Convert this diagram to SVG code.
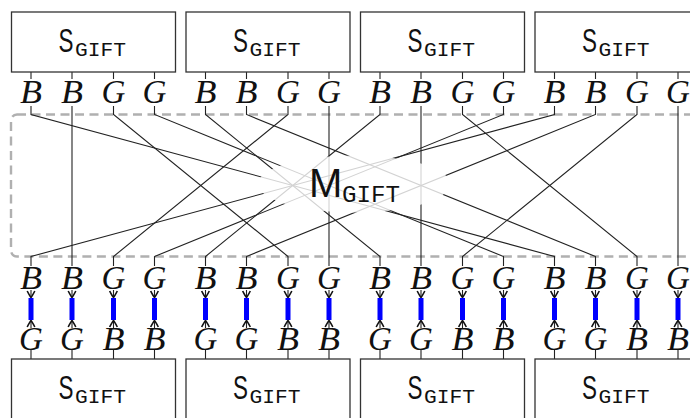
<svg xmlns="http://www.w3.org/2000/svg" width="690" height="418" viewBox="0 0 690 418">
  <style>
    .box { fill: #fff; stroke: #333; stroke-width: 1.3; }
    .s { font-family: "Liberation Sans", Arial, sans-serif; font-size: 33px; fill: #111; }
    .sub { font-family: "Liberation Mono", "DejaVu Sans Mono", monospace; font-size: 21px; fill: #111; }
    .lbl { font-family: "Liberation Serif", "Times New Roman", serif; font-style: italic; font-size: 33px; fill: #111; text-anchor: middle; }
    .wire { fill: none; stroke: #222; stroke-width: 1.1; }
    .frame { fill: none; stroke: #b0b0b0; stroke-width: 2.4; stroke-dasharray: 9 5.5; }
    .bar { fill: #0000ff; }
    .arr { fill: none; stroke: #222; stroke-width: 1.1; marker-end: url(#tip); }
  </style>
  <defs>
    <marker id="tip" viewBox="-8 -5 10 10" markerWidth="10" markerHeight="10" refX="0" refY="0" orient="auto" markerUnits="userSpaceOnUse">
      <path d="M-6.5,-3.8 Q-1.5,-1.2 0,0 Q-1.5,1.2 -6.5,3.8" fill="none" stroke="#111" stroke-width="1.6"/>
    </marker>
  </defs>

  <!-- dashed frame around the permutation layer -->
  <rect class="frame" x="11" y="114.5" width="700" height="142" rx="6"/>

  <!-- connectors: 16-bit permutation between the two S-box layers -->
  <g id="connectors">
    <!-- stubs from upper S-boxes to output labels -->
    <path class="wire" d="M31 72V79M72 72V79M113.5 72V79M154.5 72V79M205.5 72V79M246.5 72V79M288 72V79M329 72V79M380 72V79M421 72V79M462.5 72V79M503.5 72V79M554.5 72V79M595.5 72V79M637 72V79M678 72V79"/>
    <!-- permutation wires -->
    <path class="wire" d="M31 106V114.5L554.5 256.5V266"/>
    <path class="wire" d="M72 106V114.5L72 256.5V266"/>
    <path class="wire" d="M113.5 106V114.5L288 256.5V266"/>
    <path class="wire" d="M154.5 106V114.5L503.5 256.5V266"/>
    <path class="wire" d="M205.5 106V114.5L380 256.5V266"/>
    <path class="wire" d="M246.5 106V114.5L595.5 256.5V266"/>
    <path class="wire" d="M288 106V114.5L113.5 256.5V266"/>
    <path class="wire" d="M329 106V114.5L329 256.5V266"/>
    <path class="wire" d="M380 106V114.5L205.5 256.5V266"/>
    <path class="wire" d="M421 106V114.5L421 256.5V266"/>
    <path class="wire" d="M462.5 106V114.5L637 256.5V266"/>
    <path class="wire" d="M503.5 106V114.5L154.5 256.5V266"/>
    <path class="wire" d="M554.5 106V114.5L31 256.5V266"/>
    <path class="wire" d="M595.5 106V114.5L246.5 256.5V266"/>
    <path class="wire" d="M637 106V114.5L462.5 256.5V266"/>
    <path class="wire" d="M678 106V114.5L678 256.5V266"/>
    <!-- arrows from permuted labels down onto the bars -->
    <path class="arr" d="M31 290V297.5"/><path class="arr" d="M72 290V297.5"/><path class="arr" d="M113.5 290V297.5"/><path class="arr" d="M154.5 290V297.5"/>
    <path class="arr" d="M205.5 290V297.5"/><path class="arr" d="M246.5 290V297.5"/><path class="arr" d="M288 290V297.5"/><path class="arr" d="M329 290V297.5"/>
    <path class="arr" d="M380 290V297.5"/><path class="arr" d="M421 290V297.5"/><path class="arr" d="M462.5 290V297.5"/><path class="arr" d="M503.5 290V297.5"/>
    <path class="arr" d="M554.5 290V297.5"/><path class="arr" d="M595.5 290V297.5"/><path class="arr" d="M637 290V297.5"/><path class="arr" d="M678 290V297.5"/>
    <!-- arrows from input labels up onto the bars -->
    <path class="arr" d="M31 328V320.5"/><path class="arr" d="M72 328V320.5"/><path class="arr" d="M113.5 328V320.5"/><path class="arr" d="M154.5 328V320.5"/>
    <path class="arr" d="M205.5 328V320.5"/><path class="arr" d="M246.5 328V320.5"/><path class="arr" d="M288 328V320.5"/><path class="arr" d="M329 328V320.5"/>
    <path class="arr" d="M380 328V320.5"/><path class="arr" d="M421 328V320.5"/><path class="arr" d="M462.5 328V320.5"/><path class="arr" d="M503.5 328V320.5"/>
    <path class="arr" d="M554.5 328V320.5"/><path class="arr" d="M595.5 328V320.5"/><path class="arr" d="M637 328V320.5"/><path class="arr" d="M678 328V320.5"/>
    <!-- stubs from input labels to lower S-boxes -->
    <path class="wire" d="M31 350V359M72 350V359M113.5 350V359M154.5 350V359M205.5 350V359M246.5 350V359M288 350V359M329 350V359M380 350V359M421 350V359M462.5 350V359M503.5 350V359M554.5 350V359M595.5 350V359M637 350V359M678 350V359"/>
  </g>

  <!-- permutation layer label, with a translucent backdrop that fades the wires -->
  <g id="m-gift">
    <ellipse cx="354" cy="184" rx="96" ry="28.5" fill="#fff" fill-opacity="0.8"/>
    <text x="309" y="197" font-family="'Liberation Sans', Arial, sans-serif" font-size="40" fill="#111">M</text>
    <text x="342" y="202" font-family="'Liberation Mono', monospace" font-size="24" fill="#111" textLength="58" lengthAdjust="spacingAndGlyphs">GIFT</text>
  </g>

  <!-- upper S-box layer -->
  <g id="s-top-0">
    <rect class="box" x="11.5" y="12" width="164" height="60"/>
    <text class="s" transform="translate(58.5 52) scale(0.68 1)">S</text>
    <text class="sub" x="75" y="55.5" textLength="51" lengthAdjust="spacingAndGlyphs">GIFT</text>
  </g>
  <g id="s-top-1">
    <rect class="box" x="186" y="12" width="164" height="60"/>
    <text class="s" transform="translate(233 52) scale(0.68 1)">S</text>
    <text class="sub" x="249.5" y="55.5" textLength="51" lengthAdjust="spacingAndGlyphs">GIFT</text>
  </g>
  <g id="s-top-2">
    <rect class="box" x="360.5" y="12" width="164" height="60"/>
    <text class="s" transform="translate(407.5 52) scale(0.68 1)">S</text>
    <text class="sub" x="424" y="55.5" textLength="51" lengthAdjust="spacingAndGlyphs">GIFT</text>
  </g>
  <g id="s-top-3">
    <rect class="box" x="535" y="12" width="164" height="60"/>
    <text class="s" transform="translate(582 52) scale(0.68 1)">S</text>
    <text class="sub" x="598.5" y="55.5" textLength="51" lengthAdjust="spacingAndGlyphs">GIFT</text>
  </g>

  <!-- output bit labels of the upper layer -->
  <g id="out-labels">
    <text class="lbl" x="31" y="103" textLength="22" lengthAdjust="spacingAndGlyphs">B</text><text class="lbl" x="72" y="103" textLength="22" lengthAdjust="spacingAndGlyphs">B</text><text class="lbl" x="113.5" y="103">G</text><text class="lbl" x="154.5" y="103">G</text>
    <text class="lbl" x="205.5" y="103" textLength="22" lengthAdjust="spacingAndGlyphs">B</text><text class="lbl" x="246.5" y="103" textLength="22" lengthAdjust="spacingAndGlyphs">B</text><text class="lbl" x="288" y="103">G</text><text class="lbl" x="329" y="103">G</text>
    <text class="lbl" x="380" y="103" textLength="22" lengthAdjust="spacingAndGlyphs">B</text><text class="lbl" x="421" y="103" textLength="22" lengthAdjust="spacingAndGlyphs">B</text><text class="lbl" x="462.5" y="103">G</text><text class="lbl" x="503.5" y="103">G</text>
    <text class="lbl" x="554.5" y="103" textLength="22" lengthAdjust="spacingAndGlyphs">B</text><text class="lbl" x="595.5" y="103" textLength="22" lengthAdjust="spacingAndGlyphs">B</text><text class="lbl" x="637" y="103">G</text><text class="lbl" x="678" y="103">G</text>
  </g>

  <!-- permuted bit labels -->
  <g id="perm-labels">
    <text class="lbl" x="31" y="289" textLength="22" lengthAdjust="spacingAndGlyphs">B</text><text class="lbl" x="72" y="289" textLength="22" lengthAdjust="spacingAndGlyphs">B</text><text class="lbl" x="113.5" y="289">G</text><text class="lbl" x="154.5" y="289">G</text>
    <text class="lbl" x="205.5" y="289" textLength="22" lengthAdjust="spacingAndGlyphs">B</text><text class="lbl" x="246.5" y="289" textLength="22" lengthAdjust="spacingAndGlyphs">B</text><text class="lbl" x="288" y="289">G</text><text class="lbl" x="329" y="289">G</text>
    <text class="lbl" x="380" y="289" textLength="22" lengthAdjust="spacingAndGlyphs">B</text><text class="lbl" x="421" y="289" textLength="22" lengthAdjust="spacingAndGlyphs">B</text><text class="lbl" x="462.5" y="289">G</text><text class="lbl" x="503.5" y="289">G</text>
    <text class="lbl" x="554.5" y="289" textLength="22" lengthAdjust="spacingAndGlyphs">B</text><text class="lbl" x="595.5" y="289" textLength="22" lengthAdjust="spacingAndGlyphs">B</text><text class="lbl" x="637" y="289">G</text><text class="lbl" x="678" y="289">G</text>
  </g>

  <!-- matching bars -->
  <g id="bars">
    <rect class="bar" x="28.5" y="298" width="5" height="22"/><rect class="bar" x="69.5" y="298" width="5" height="22"/><rect class="bar" x="111" y="298" width="5" height="22"/><rect class="bar" x="152" y="298" width="5" height="22"/>
    <rect class="bar" x="203" y="298" width="5" height="22"/><rect class="bar" x="244" y="298" width="5" height="22"/><rect class="bar" x="285.5" y="298" width="5" height="22"/><rect class="bar" x="326.5" y="298" width="5" height="22"/>
    <rect class="bar" x="377.5" y="298" width="5" height="22"/><rect class="bar" x="418.5" y="298" width="5" height="22"/><rect class="bar" x="460" y="298" width="5" height="22"/><rect class="bar" x="501" y="298" width="5" height="22"/>
    <rect class="bar" x="552" y="298" width="5" height="22"/><rect class="bar" x="593" y="298" width="5" height="22"/><rect class="bar" x="634.5" y="298" width="5" height="22"/><rect class="bar" x="675.5" y="298" width="5" height="22"/>
  </g>

  <!-- input bit labels of the lower layer -->
  <g id="in-labels">
    <text class="lbl" x="31" y="350">G</text><text class="lbl" x="72" y="350">G</text><text class="lbl" x="113.5" y="350" textLength="22" lengthAdjust="spacingAndGlyphs">B</text><text class="lbl" x="154.5" y="350" textLength="22" lengthAdjust="spacingAndGlyphs">B</text>
    <text class="lbl" x="205.5" y="350">G</text><text class="lbl" x="246.5" y="350">G</text><text class="lbl" x="288" y="350" textLength="22" lengthAdjust="spacingAndGlyphs">B</text><text class="lbl" x="329" y="350" textLength="22" lengthAdjust="spacingAndGlyphs">B</text>
    <text class="lbl" x="380" y="350">G</text><text class="lbl" x="421" y="350">G</text><text class="lbl" x="462.5" y="350" textLength="22" lengthAdjust="spacingAndGlyphs">B</text><text class="lbl" x="503.5" y="350" textLength="22" lengthAdjust="spacingAndGlyphs">B</text>
    <text class="lbl" x="554.5" y="350">G</text><text class="lbl" x="595.5" y="350">G</text><text class="lbl" x="637" y="350" textLength="22" lengthAdjust="spacingAndGlyphs">B</text><text class="lbl" x="678" y="350" textLength="22" lengthAdjust="spacingAndGlyphs">B</text>
  </g>

  <!-- lower S-box layer -->
  <g id="s-bot-0">
    <rect class="box" x="11.5" y="359" width="164" height="62"/>
    <text class="s" transform="translate(58.5 399) scale(0.68 1)">S</text>
    <text class="sub" x="75" y="402.5" textLength="51" lengthAdjust="spacingAndGlyphs">GIFT</text>
  </g>
  <g id="s-bot-1">
    <rect class="box" x="186" y="359" width="164" height="62"/>
    <text class="s" transform="translate(233 399) scale(0.68 1)">S</text>
    <text class="sub" x="249.5" y="402.5" textLength="51" lengthAdjust="spacingAndGlyphs">GIFT</text>
  </g>
  <g id="s-bot-2">
    <rect class="box" x="360.5" y="359" width="164" height="62"/>
    <text class="s" transform="translate(407.5 399) scale(0.68 1)">S</text>
    <text class="sub" x="424" y="402.5" textLength="51" lengthAdjust="spacingAndGlyphs">GIFT</text>
  </g>
  <g id="s-bot-3">
    <rect class="box" x="535" y="359" width="164" height="62"/>
    <text class="s" transform="translate(582 399) scale(0.68 1)">S</text>
    <text class="sub" x="598.5" y="402.5" textLength="51" lengthAdjust="spacingAndGlyphs">GIFT</text>
  </g>
</svg>
